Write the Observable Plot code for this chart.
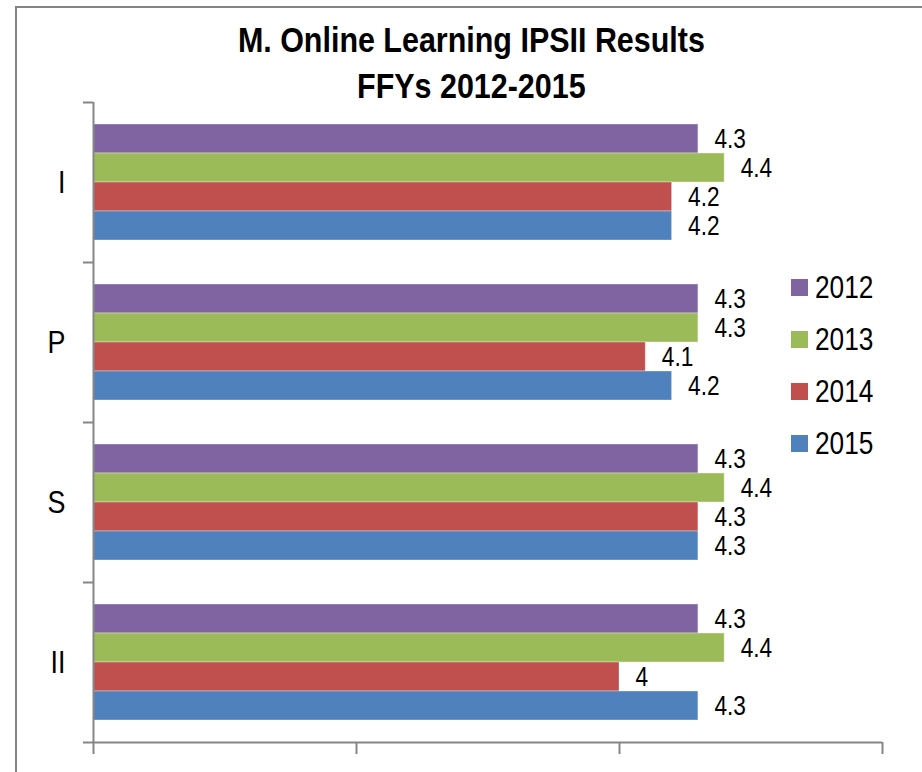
<!DOCTYPE html>
<html>
<head>
<meta charset="utf-8">
<script src="https://cdn.jsdelivr.net/npm/d3@7"></script>
<script src="https://cdn.jsdelivr.net/npm/@observablehq/plot@0.6"></script>
<style>
  html, body { margin: 0; padding: 0; background: #fff; }
  #wrap { position: relative; width: 922px; height: 772px; overflow: hidden; font-family: "Liberation Sans", Arial, sans-serif; }
  #frame { position: absolute; left: 15px; top: 6px; width: 1000px; height: 1000px; border: 2px solid #858585; box-sizing: border-box; }
  #title { position: absolute; left: 0; top: 17px; width: 942px; text-align: center; font-weight: bold; font-size: 35px; line-height: 46px; color: #000; }
  #title span { display: inline-block; white-space: nowrap; transform-origin: 50% 50%; }
  #chart { position: absolute; left: 0; top: 0; }
  #legend { position: absolute; left: 791px; top: 261px; }
  .item { display: flex; align-items: center; height: 52px; font-size: 32px; color: #000; }
  .item span { display: inline-block; transform: scaleX(0.82); transform-origin: 0 50%; }
  .sw { width: 17px; height: 17px; margin-right: 7px; }
</style>
</head>
<body>
<div id="wrap">
  <div id="frame"></div>
  <div id="title"><span id="t1">M. Online Learning IPSII Results</span><br><span id="t2">FFYs 2012-2015</span></div>
  <div id="chart"></div>
  <div id="legend"></div>
</div>
<script>
const categories = ["I", "P", "S", "II"];
const years = ["2012", "2013", "2014", "2015"];
const v2012 = [4.3, 4.3, 4.3, 4.3];
const v2013 = [4.4, 4.3, 4.4, 4.4];
const v2014 = [4.2, 4.1, 4.3, 4.0];
const v2015 = [4.2, 4.2, 4.3, 4.3];
const xTicks = [2, 3, 4, 5];
const colors = ["#8064A2", "#9BBB59", "#C0504D", "#4F81BD"];

const series = [v2012, v2013, v2014, v2015];
const rows = [];
categories.forEach((c, i) => {
  years.forEach((y, j) => {
    rows.push({cat: c, ci: i, year: y, yi: j, value: series[j][i]});
  });
});

// band layout within each category (fraction of a category step)
const outer = 22 / 160, barH = 29 / 160;
const top0 = d => d.ci + outer + d.yi * barH;

const boundaries = d3.range(categories.length + 1);
const centers = d3.range(categories.length).map(i => i + 0.5);

const plot = Plot.plot({
  width: 922,
  height: 772,
  marginLeft: 93,
  marginRight: 40,
  marginTop: 102,
  marginBottom: 30,
  style: {fontFamily: '"Liberation Sans", Arial, sans-serif', background: "transparent", overflow: "visible"},
  x: {domain: [xTicks[0], xTicks[xTicks.length - 1]], axis: null},
  y: {domain: [0, categories.length], reverse: true, axis: null},
  color: {domain: years, range: colors},
  marks: [
    Plot.rect(rows, {
      x1: xTicks[0], x2: "value",
      y1: d => top0(d), y2: d => top0(d) + barH,
      fill: "year", stroke: "#fff", strokeOpacity: 0.35, strokeWidth: 1
    }),
    Plot.text(rows, {
      x: "value", y: d => top0(d) + barH / 2,
      text: d => String(d.value),
      dx: 16, textAnchor: "start", fontSize: 27, fill: "#000"
    }),
    Plot.ruleX([xTicks[0]], {y1: 0, y2: categories.length, stroke: "#868686", strokeWidth: 2}),
    Plot.ruleY([categories.length], {x1: xTicks[0], x2: xTicks[xTicks.length - 1], stroke: "#868686", strokeWidth: 2}),
    Plot.axisY(boundaries, {anchor: "left", tickSize: 10, tickFormat: () => "", label: null, stroke: "#868686", strokeWidth: 2}),
    Plot.axisY(centers, {anchor: "left", tickSize: 0, tickPadding: 28, textAnchor: "end", tickFormat: d => categories[Math.floor(d)], label: null, fontSize: 32, fill: "#000"}),
    Plot.axisX(xTicks, {anchor: "bottom", tickSize: 12, tickFormat: () => "", label: null, stroke: "#868686", strokeWidth: 2})
  ]
});
document.getElementById("chart").appendChild(plot);

// condense SVG text horizontally (narrow font look) around each anchor point
const NARROW = 0.84;
const isNum = v => v != null && v !== "" && !isNaN(+v);
plot.querySelectorAll("text").forEach(t => {
  const xa = t.getAttribute("x"), ya = t.getAttribute("y");
  const x = isNum(xa) ? +xa : 0, y = isNum(ya) ? +ya : 0;
  if (isNum(xa)) t.setAttribute("x", 0);
  if (isNum(ya)) t.setAttribute("y", 0);
  const tr = t.getAttribute("transform") || "";
  t.setAttribute("transform", `${tr} translate(${x},${y}) scale(${NARROW},1)`.trim());
});

// title: narrow to reference width
const t1 = document.getElementById("t1"), t2 = document.getElementById("t2");
const s = 467 / t1.getBoundingClientRect().width;
t1.style.transform = `scaleX(${s})`;
t2.style.transform = `scaleX(${s})`;

const legend = document.getElementById("legend");
years.forEach((y, j) => {
  const it = document.createElement("div");
  it.className = "item";
  const sw = document.createElement("div");
  sw.className = "sw";
  sw.style.background = colors[j];
  const t = document.createElement("span");
  t.textContent = y;
  it.appendChild(sw);
  it.appendChild(t);
  legend.appendChild(it);
});
</script>
</body>
</html>
